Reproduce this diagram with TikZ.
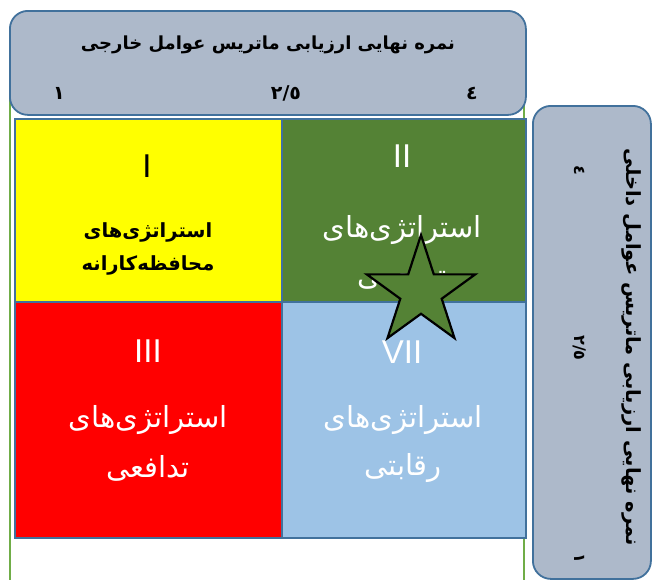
\documentclass[tikz,border=0pt]{standalone}
\usepackage{fontspec}
\setmainfont{Liberation Sans}
\newfontfamily\fa[Script=Arabic]{DejaVu Sans}
\TeXXeTstate=1
\usetikzlibrary{shapes.geometric}
\definecolor{boxfill}{HTML}{ADB9CA}
\definecolor{boxline}{HTML}{41719C}
\definecolor{cellyellow}{HTML}{FFFF00}
\definecolor{cellred}{HTML}{FF0000}
\definecolor{cellgreen}{HTML}{548235}
\definecolor{cellblue}{HTML}{9DC3E6}
\definecolor{outergreen}{HTML}{70AD47}
\tikzset{
  cellbox/.style={draw=boxline, line width=1.5pt, anchor=north west, inner sep=0pt},
  axisbox/.style={draw=boxline, fill=boxfill, line width=1.8pt, rounded corners=18pt, anchor=north west, inner sep=0pt},
  roman/.style={font=\fontsize{33}{33}\selectfont, inner sep=0pt},
  celltext/.style={font=\fontsize{29}{29}\selectfont\fa, inner sep=0pt},
  boldtext/.style={font=\fontsize{19.5}{19.5}\selectfont\fa\bfseries, inner sep=0pt},
  axistitle/.style={font=\fontsize{18}{18}\selectfont\fa\bfseries, inner sep=0pt},
  righttitle/.style={font=\fontsize{19.5}{19.5}\selectfont\fa\bfseries, inner sep=0pt},
  axisnum/.style={font=\fontsize{19}{19}\selectfont\fa\bfseries, inner sep=0pt},
  rightnum/.style={font=\fontsize{16}{16}\selectfont\fa\bfseries, inner sep=0pt},
}
\begin{document}
\begin{tikzpicture}[x=1pt,y=-1pt]
\useasboundingbox (0,0) rectangle (652,579);
\clip (0,0) rectangle (652,579);
% outer green frame
\draw[outergreen, line width=2pt] (9.5,100) rectangle (523.5,620);
% cells
\node[cellbox, fill=cellyellow, minimum width=267pt, minimum height=183pt] (c1) at (14,118) {};
\node[cellbox, fill=cellgreen, minimum width=244pt, minimum height=183pt] (c2) at (281,118) {};
\node[cellbox, fill=cellred, minimum width=267pt, minimum height=236pt] (c3) at (14,301) {};
\node[cellbox, fill=cellblue, minimum width=244pt, minimum height=236pt] (c4) at (281,301) {};
% cell texts
\node[roman, text=black] (n1) at (147,166) {I};
\node[boldtext, text=black] (t1a) at (148,232) {\beginR استراتژی‌های\endR};
\node[boldtext, text=black] (t1b) at (148,265) {\beginR محافظه‌کارانه\endR};
\node[roman, text=white] (n2) at (402,156) {II};
\node[celltext, text=white] (t2a) at (402,230) {\beginR استراتژی‌های\endR};
\node[celltext, text=white] (t2b) at (402,278) {\beginR تهاجمی\endR};
\node[roman, text=white] (n3) at (148,351) {III};
\node[celltext, text=white] (t3a) at (148,420) {\beginR استراتژی‌های\endR};
\node[celltext, text=white] (t3b) at (148,468) {\beginR تدافعی\endR};
\node[roman, text=white] (n4) at (402,352) {VII};
\node[celltext, text=white] (t4a) at (403,420) {\beginR استراتژی‌های\endR};
\node[celltext, text=white] (t4b) at (403,468) {\beginR رقابتی\endR};
% star
\node[star, star points=5, star point ratio=2.618, minimum size=114pt, inner sep=0pt,
      draw=black, line width=2.2pt, fill=cellgreen] (st) at (421,292) {};
% top axis box
\node[axisbox, minimum width=516pt, minimum height=104pt] (top) at (9,10) {};
\node[axistitle] (toptitle) at (268,45) {\beginR نمره نهایی ارزیابی ماتریس عوامل خارجی\endR};
\node[axisnum] (tx1) at (59,93) {١};
\node[axisnum] (tx2) at (286,93) {٢/٥};
\node[axisnum] (tx3) at (472,93) {٤};
% right axis box
\node[axisbox, minimum width=118pt, minimum height=473pt] (right) at (532,105) {};
\node[righttitle, rotate=-90] (rtitle) at (632,347) {\beginR نمره نهایی ارزیابی ماتریس عوامل داخلی\endR};
\node[rightnum, rotate=-90] (ry1) at (580,558) {١};
\node[rightnum, rotate=-90] (ry2) at (580,348) {٢/٥};
\node[rightnum, rotate=-90] (ry3) at (580,170) {٤};
\end{tikzpicture}
\end{document}
